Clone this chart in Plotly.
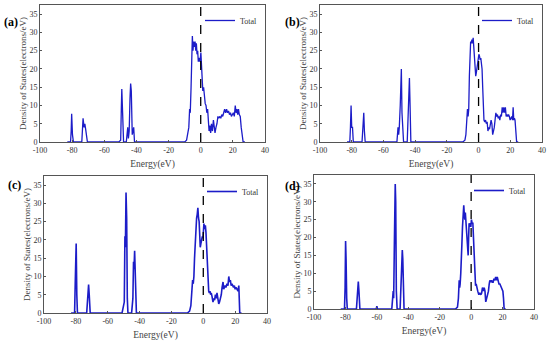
import plotly.graph_objects as go

# ---------------- data ----------------
energy_a = [-83, -81, -80.6, -80.3, -79.8, -79.2, -74, -73.2, -72.6, -72.1, -71.6, -71.0, -70.5,
            -51, -49.8, -49.4, -49.1, -48.6, -48.0, -46.3, -45.8, -45.4, -45.0, -44.5, -44.0, -43.6,
            -43.2, -42.6, -42.1, -41.7, -41.2, -10, -8.8, -8.0, -7.4, -6.9, -6.5, -6.0, -5.6, -5.2,
            -4.8, -4.4, -3.9, -3.5, -3.1, -2.7, -2.3, -1.9, -1.5, -1.1, -0.7, -0.3, 0.1, 0.5, 0.9,
            1.3, 1.8, 2.3, 2.8, 3.3, 3.8, 4.3, 4.8, 5.2, 5.7, 6.2, 6.7, 7.3, 7.9, 8.4, 8.9, 9.5,
            10.1, 10.7, 11.3, 11.9, 12.5, 13.1, 13.7, 14.3, 14.9, 15.5, 16.1, 16.7, 17.3, 17.9,
            18.5, 19.1, 19.7, 20.3, 20.9, 21.5, 22.0, 22.5, 23.0, 23.5, 24.0, 24.6, 25.2, 25.8,
            26.4, 27.5]
dos_a = [0, 0, 3, 7.7, 2, 0, 0, 6.5, 4, 5, 3.5, 1, 0,
         0, 0.5, 9, 14.5, 8, 0, 0, 2, 4, 1, 3, 12, 16,
         14, 2, 3, 4, 0, 0, 0.5, 2, 4, 9, 8, 15, 22, 29,
         25, 27.5, 26, 27.5, 25, 27, 24, 25, 22, 23, 22, 22.5, 24.5, 20, 17,
         14, 15, 12, 10.5, 10, 8, 9, 5, 3, 4.5, 2.5, 5, 3, 6, 4, 2.5, 4,
         5, 7, 6.5, 7, 6.5, 7.5, 7, 8, 9, 8, 9, 8, 8.5, 7.5,
         8, 7, 7.5, 8, 7, 10, 8, 9, 7.5, 9, 7.5, 7, 4, 2,
         0, 0]

energy_b = [-83, -81.2, -80.8, -80.4, -80.0, -79.5, -79.0, -73.5, -72.8, -72.4, -72.0, -71.5,
            -51.5, -50.8, -50.4, -50.0, -49.4, -49.0, -48.7, -48.3, -47.8, -47.3, -45.0, -44.5,
            -44.2, -43.9, -43.6, -43.2, -42.7, -10, -8.6, -8.0, -7.4, -7.0, -6.6, -6.2, -5.8,
            -5.4, -5.0, -4.6, -4.2, -3.8, -3.4, -3.0, -2.6, -2.2, -1.8, -1.4, -1.0, -0.6, -0.2,
            0.2, 0.6, 1.0, 1.4, 1.8, 2.2, 2.6, 3.0, 3.4, 3.9, 4.4, 4.9, 5.4, 5.9, 6.4, 6.9, 7.4,
            7.9, 8.4, 8.9, 9.4, 9.9, 10.4, 10.9, 11.4, 11.9, 12.4, 12.9, 13.4, 13.9, 14.4, 14.9,
            15.4, 15.9, 16.4, 16.9, 17.4, 17.9, 18.4, 18.9, 19.4, 19.9, 20.4, 20.9, 21.4, 21.8,
            22.2, 22.6, 23.0, 23.5, 24.0, 25]
dos_b = [0, 0, 4, 10, 4, 4, 0, 0, 5, 8, 3, 0,
         0, 4, 2, 4, 10, 16, 20, 8, 4, 0, 0, 8,
         15, 13, 17.5, 10, 0, 0, 0.5, 2, 5, 9, 7, 9, 18,
         22, 27.5, 27, 28, 27, 28.5, 26, 24, 22, 18, 19, 20, 21, 22,
         24, 23.5, 22.5, 23, 21, 20, 15, 8, 6, 5.5, 6, 5, 5.5, 3, 4, 3.5, 4.5,
         6, 5, 2, 3, 4, 6, 8, 7, 7.5, 6.5, 7, 6, 7.5, 7, 9.5,
         8, 9.5, 8, 9.5, 7, 7.5, 7, 7.5, 7, 6, 6.5, 7, 6, 9.5,
         6, 6.5, 6, 3, 0, 0]

energy_c = [-83, -80.8, -80.4, -80.1, -79.8, -79.4, -79.0, -73.2, -72.4, -72.0, -71.6, -71.0,
            -51, -49.6, -49.2, -48.9, -48.5, -48.1, -47.7, -47.3, -45, -44.2, -43.8, -43.5,
            -43.1, -42.6, -42.0, -10, -8.6, -7.8, -7.2, -6.7, -6.3, -5.9, -5.5, -5.0, -4.6,
            -4.2, -3.8, -3.4, -3.0, -2.6, -2.2, -1.9, -1.5, -1.0, -0.6, -0.2, 0.4, 0.8, 1.3,
            1.7, 2.1, 2.5, 2.9, 3.4, 3.8, 4.2, 4.6, 5.0, 5.5, 6.1, 6.6, 7.1, 7.6, 8.1, 8.6, 9.1,
            9.7, 10.2, 10.7, 11.3, 11.8, 12.4, 12.8, 13.2, 13.7, 14.2, 14.9, 15.5, 16.0, 16.5,
            17.0, 17.5, 18.0, 18.5, 19.0, 19.5, 20.0, 20.5, 21.0, 21.5, 21.8, 22.3, 22.9, 24]
dos_c = [0, 0, 8, 16, 19, 5, 0, 0, 4, 7.8, 5, 0,
         0, 3, 21, 18, 33, 26, 4, 0, 0, 4, 14, 12,
         17, 5, 0, 0, 0.5, 2, 6, 9, 8, 10, 15, 20, 25,
         26, 27, 28.8, 26, 25, 21, 18, 19, 20, 21, 20.5, 24.5, 23, 24,
         22, 18, 12, 7, 6, 5.5, 6, 5, 5.5, 4.5, 3, 4, 3.5, 5, 4, 5.5, 4,
         2.5, 3, 4, 5, 7, 8.5, 6.5, 7, 7.5, 7, 8, 7.5, 10, 8.5,
         9, 7.5, 8, 7.5, 7, 7.5, 6.5, 7, 6.5, 6.5, 6, 7.5, 0, 0]

energy_d = [-83, -80.6, -80.2, -79.9, -79.6, -79.2, -78.8, -73.0, -72.3, -71.8, -71.4, -70.8,
            -60.4, -60.0, -59.6, -50.5, -49.6, -49.3, -48.8, -48.3, -48.0, -47.6, -47.1,
            -45.2, -44.6, -44.2, -43.8, -43.5, -43.1, -42.7, -10, -8.7, -8.1, -7.6, -7.3, -7.0,
            -6.6, -6.2, -5.9, -5.5, -5.1, -4.7, -4.3, -4.0, -3.7, -3.4, -3.1, -2.8, -2.4, -1.9,
            -1.6, -1.3, -1.0, -0.6, -0.2, 0.2, 0.6, 1.1, 1.5, 1.9, 2.4, 2.8, 3.2, 3.6, 4.2, 4.9,
            5.5, 6.2, 6.7, 7.2, 7.8, 8.3, 8.8, 9.3, 9.9, 10.4, 11.0, 11.5, 11.9, 12.5, 13.0,
            13.5, 14.0, 14.5, 15.1, 15.6, 16.1, 16.6, 17.2, 17.7, 18.3, 18.8, 19.3, 19.8, 20.2,
            20.6, 21.0, 22]
dos_d = [0, 0, 6, 19, 14, 3, 0, 0, 4, 7.7, 5, 0,
         0, 0.8, 0, 0, 5, 3, 20, 35, 30, 5, 0,
         0, 6, 14, 16.5, 14, 8, 0, 0, 0.5, 3, 8, 6, 7,
         10, 13, 18, 23, 25, 29, 26, 25, 27, 25, 24, 23, 18, 15,
         20, 24, 23, 24, 23, 25, 24, 24, 20, 12, 8, 6.5, 7, 6, 5, 4,
         4.5, 4, 4.5, 6, 5, 6, 5, 2, 3, 4, 5, 7, 8, 7.5, 8,
         7.5, 7.5, 8.5, 8, 9, 8, 9, 8, 7, 7, 6.5, 6, 5.5, 5,
         3, 0, 0]

panels = ["(a)", "(b)", "(c)", "(d)"]
series = [(energy_a, dos_a), (energy_b, dos_b), (energy_c, dos_c), (energy_d, dos_d)]
x_ticks = [-100, -80, -60, -40, -20, 0, 20, 40]
y_ticks = [0, 5, 10, 15, 20, 25, 30, 35]

# ---------------- layout geometry ----------------
W, H = 550, 343
boxes = [  # left, right, top, bottom in pixels
    (40, 265, 5, 142),
    (320, 542, 5, 142),
    (44, 267, 176, 313),
    (314, 534, 175, 309),
]
label_pos = [(2, 22), (283, 22), (6, 185), (283, 186)]
line_widths = [1.3, 1.3, 1.6, 1.6]

fig = go.Figure()
font_family = "Liberation Serif"
blue = "#1c1cc8"

for i, ((E, D), (l, r, t, b)) in enumerate(zip(series, boxes)):
    n = "" if i == 0 else str(i + 1)
    leg = "legend" if i == 0 else f"legend{i+1}"
    fig.add_trace(go.Scatter(x=E, y=D, mode="lines", name="Total",
                             line=dict(color=blue, width=line_widths[i]),
                             xaxis="x" + n, yaxis="y" + n, legend=leg, showlegend=True))
    xd = [l / W, r / W]
    yd = [1 - b / H, 1 - t / H]
    axis_common = dict(showline=True, mirror=True, linecolor="#555555", linewidth=1,
                       ticks="inside", ticklen=2, tickcolor="#555555", showgrid=False,
                       zeroline=False, automargin=False,
                       tickfont=dict(family=font_family, size=8, color="#333"))
    fig.update_layout({
        "xaxis" + n: dict(domain=xd, range=[-100, 40], tickvals=x_ticks,
                          ticktext=[str(v) for v in x_ticks], anchor="y" + n,
                          title=dict(text="Energy(eV)", standoff=6,
                                     font=dict(family=font_family, size=9.5, color="#444")),
                          **axis_common),
        "yaxis" + n: dict(domain=yd, range=[0, 37.5], tickvals=y_ticks, anchor="x" + n,
                          title=dict(text="Density of States(electrons/eV)", standoff=1,
                                     font=dict(family=font_family, size=9, color="#444")),
                          **axis_common),
        leg: dict(x=(r - 2) / W, y=1 - (t + 1) / H, xanchor="right", yanchor="top",
                  bgcolor="rgba(0,0,0,0)", font=dict(family=font_family, size=8, color="#333"),
                  itemwidth=30, tracegroupgap=0),
    })
    fig.add_shape(type="line", x0=0, x1=0, y0=0, y1=37.5, xref="x" + n, yref="y" + n,
                  line=dict(color="black", width=1.3, dash="dash"))
    lx, ly = label_pos[i]
    fig.add_annotation(text="<b>" + panels[i] + "</b>", x=lx / W, y=1 - ly / H,
                       xref="paper", yref="paper", xanchor="left", yanchor="middle",
                       showarrow=False, font=dict(family=font_family, size=12, color="black"))

fig.update_layout(width=W, height=H, margin=dict(l=0, r=0, t=0, b=0),
                  paper_bgcolor="white", plot_bgcolor="white")
fig.write_html("out.html", config={"displayModeBar": False},
               post_script="document.body.style.margin='0px';document.body.style.padding='0px';")
